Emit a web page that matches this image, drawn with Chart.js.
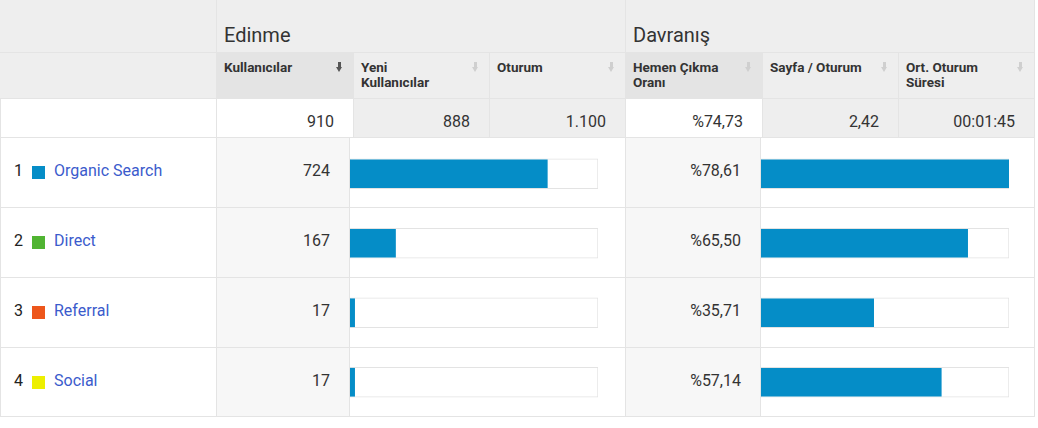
<!DOCTYPE html>
<html lang="tr">
<head>
<meta charset="UTF-8" />
<title>Kanal Raporu</title>
<script src="https://cdn.jsdelivr.net/npm/chart.js"></script>
<style>
  body { margin: 0; background: #fff; font-family: Roboto, "Noto Sans", sans-serif; }
  #wrap { position: relative; width: 1038px; height: 428px; overflow: hidden; }
  .c { position: absolute; box-sizing: border-box; border-right: 1px solid #e4e4e4; border-bottom: 1px solid #e4e4e4; }
  .grp { position: absolute; font-size: 20px; line-height: 24px; color: #333; }
  .hd { position: absolute; font-size: 13.5px; font-weight: bold; line-height: 15px; color: #333; }
  .num { position: absolute; font-size: 16px; line-height: 20px; color: #333; text-align: right; }
  .idx { position: absolute; font-size: 16px; line-height: 20px; color: #222; }
  .lnk { position: absolute; font-size: 16px; line-height: 20px; color: #3b5bcc; }
  .sq { position: absolute; width: 13px; height: 13px; }
  .arr { position: absolute; width: 7px; height: 11px; }
  .arr::before { content: ""; position: absolute; left: 2px; top: 0; width: 3px; height: 6px; background: var(--ac); }
  .arr::after { content: ""; position: absolute; left: 0; top: 5px; border-left: 3.5px solid transparent; border-right: 3.5px solid transparent; border-top: 5px solid var(--ac); }
  canvas { position: absolute; }
</style>
</head>
<body>
<div id="wrap">
  <canvas id="usersBars" width="248" height="278" style="left:350px; top:139px;"></canvas>
  <canvas id="bounceBars" width="248" height="278" style="left:761px; top:139px;"></canvas>
</div>

<script>
  // --- veriler ---
  const channels = ["Organic Search", "Direct", "Referral", "Social"];
  const channelColors = ["#058dc7", "#50b432", "#ed561b", "#edef00"];
  const users = [724, 167, 17, 17];
  const bounceRates = [78.61, 65.50, 35.71, 57.14];

  const groupTitles = ["Edinme", "Davranış"];
  const columnTitles = [["Kullanıcılar"], ["Yeni", "Kullanıcılar"], ["Oturum"],
                        ["Hemen Çıkma", "Oranı"], ["Sayfa / Oturum"], ["Ort. Oturum", "Süresi"]];
  const totals = [910, 888, 1100, 74.73, 2.42, "00:01:45"];

  const wrap = document.getElementById("wrap");
  const canvasUsers = document.getElementById("usersBars");

  function el(cls, x, y, w, h, bg, html) {
    const d = document.createElement("div");
    d.className = cls;
    d.style.left = x + "px"; d.style.top = y + "px";
    if (w != null) d.style.width = w + "px";
    if (h != null) d.style.height = h + "px";
    if (bg) d.style.background = bg;
    if (html != null) d.innerHTML = html;
    wrap.insertBefore(d, canvasUsers);
    return d;
  }

  // tr-TR biçimleri
  const fmtInt = (n) => String(n).replace(/\B(?=(\d{3})+(?!\d))/g, ".");
  const fmtDec = (n) => n.toFixed(2).replace(".", ",");
  const fmtPct = (n) => "%" + fmtDec(n);
  const fmtTotal = [fmtInt, fmtInt, fmtInt, fmtPct, fmtDec, (v) => v];

  const colX = [217, 354, 490, 626, 763, 899];
  const colW = [137, 136, 136, 137, 136, 136];
  const sortedCols = [0, 3];

  // grup başlıkları
  el("c", 0, 0, 217, 53, "#eeeeee");
  el("c", 217, 0, 409, 53, "#eeeeee");
  el("c", 626, 0, 409, 53, "#eeeeee");
  el("grp", 224, 23, null, null, null, groupTitles[0]);
  el("grp", 633, 23, null, null, null, groupTitles[1]);

  // sütun başlıkları
  el("c", 0, 53, 217, 46, "#eeeeee");
  columnTitles.forEach((t, i) => {
    const dark = sortedCols.includes(i);
    el("c", colX[i], 53, colW[i], 46, dark ? "#e4e4e4" : "#eeeeee");
    el("hd", colX[i] + 7, 60, null, null, null, t.join("<br>"));
    const a = el("arr", colX[i] + colW[i] - 18, 62, null, null);
    a.style.setProperty("--ac", i === 0 ? "#555" : "#cfcfcf");
  });

  // toplamlar
  const tl = el("c", 0, 99, 217, 39, "#fff");
  tl.style.borderLeft = "1px solid #e4e4e4";
  totals.forEach((v, i) => {
    const white = sortedCols.includes(i);
    el("c", colX[i], 99, colW[i], 39, white ? "#fff" : "#eeeeee");
    el("num", colX[i], 112, colW[i] - 20, null, null, fmtTotal[i](v));
  });

  // satırlar
  const rowH = [70, 70, 70, 69];
  let y = 138;
  channels.forEach((name, i) => {
    const h = rowH[i];
    const l = el("c", 0, y, 217, h, "#fff");
    l.style.borderLeft = "1px solid #e4e4e4";
    el("idx", 14, y + 23, null, null, null, String(i + 1));
    el("sq", 32, y + 28, null, null, channelColors[i]);
    el("lnk", 54, y + 23, null, null, null, name);
    el("c", 217, y, 133, h, "#f7f7f7");
    el("num", 217, y + 23, 113, null, null, String(users[i]));
    el("c", 350, y, 276, h, "transparent");
    el("c", 626, y, 135, h, "#f7f7f7");
    el("num", 626, y + 23, 115, null, null, fmtPct(bounceRates[i]));
    el("c", 761, y, 274, h, "transparent");
    y += h;
  });

  // yatay çubuklar
  function inlineBars(canvasId, values, scaleMax) {
    new Chart(document.getElementById(canvasId), {
      type: "bar",
      data: {
        labels: channels,
        datasets: [
          {
            data: values,
            backgroundColor: "#058dc7",
            borderWidth: 0,
            barThickness: 28,
            grouped: false,
            order: 1
          },
          {
            data: channels.map(() => scaleMax),
            backgroundColor: "#ffffff",
            borderColor: "#e3e3e3",
            borderWidth: 1,
            borderSkipped: false,
            barThickness: 30,
            grouped: false,
            order: 2
          }
        ]
      },
      options: {
        indexAxis: "y",
        responsive: false,
        animation: false,
        layout: { padding: 0 },
        plugins: { legend: { display: false }, tooltip: { enabled: false } },
        scales: {
          x: { display: false, min: 0, max: scaleMax },
          y: { display: false }
        }
      }
    });
  }

  inlineBars("usersBars", users, totals[0]);
  inlineBars("bounceBars", bounceRates, Math.max(...bounceRates));
</script>
</body>
</html>
